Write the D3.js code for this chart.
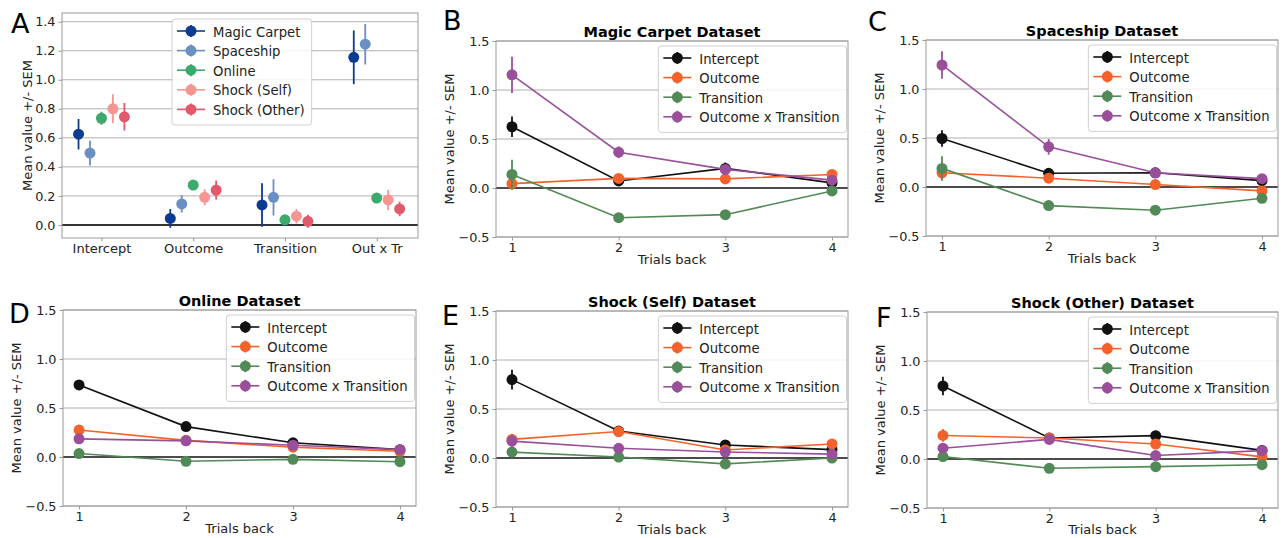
<!DOCTYPE html>
<html>
<head>
<meta charset="utf-8">
<script src="https://cdn.jsdelivr.net/npm/d3@7"></script>
<style>
  body { margin: 0; background: #fff; }
  svg { display: block; font-family: 'DejaVu Sans', sans-serif; }
</style>
</head>
<body>
<svg id="chart" width="1288" height="538"></svg>
<script>
// ---- data ----
const lags = [1, 2, 3, 4];
const regressors = ['Intercept', 'Outcome', 'Transition', 'Outcome x Transition'];
const regressorColors = ['#111111', '#f4622b', '#528a57', '#9a4f9b'];

const datasetNames = ['Magic Carpet', 'Spaceship', 'Online', 'Shock (Self)', 'Shock (Other)'];
const datasetColors = ['#0b3c91', '#6a8fc2', '#3ca96d', '#f79593', '#e05a6b'];
const summaryCategories = ['Intercept', 'Outcome', 'Transition', 'Out x Tr'];
const summaryOffsets = [-0.25, -0.125, 0, 0.125, 0.25];

// rows = regressors, columns = trials back 1..4
const magicCarpetMean = [
  [0.625, 0.072, 0.20, 0.052],
  [0.045, 0.098, 0.093, 0.138],
  [0.138, -0.303, -0.272, -0.03],
  [1.155, 0.365, 0.19, 0.08]
];
const magicCarpetSem = [
  [0.105, 0.035, 0.06, 0.03],
  [0.065, 0.03, 0.03, 0.025],
  [0.15, 0.03, 0.03, 0.03],
  [0.185, 0.06, 0.04, 0.03]
];
const spaceshipMean = [
  [0.495, 0.14, 0.145, 0.065],
  [0.145, 0.09, 0.025, -0.04],
  [0.19, -0.19, -0.237, -0.115],
  [1.245, 0.41, 0.145, 0.085]
];
const spaceshipSem = [
  [0.085, 0.03, 0.03, 0.03],
  [0.06, 0.025, 0.025, 0.025],
  [0.125, 0.025, 0.025, 0.025],
  [0.14, 0.08, 0.03, 0.025]
];
const onlineMean = [
  [0.735, 0.31, 0.145, 0.075],
  [0.275, 0.17, 0.10, 0.058],
  [0.035, -0.044, -0.024, -0.048],
  [0.185, 0.165, 0.12, 0.075]
];
const onlineSem = [
  [0.045, 0.02, 0.02, 0.015],
  [0.02, 0.02, 0.015, 0.015],
  [0.02, 0.015, 0.015, 0.015],
  [0.02, 0.02, 0.015, 0.015]
];
const shockSelfMean = [
  [0.80, 0.275, 0.133, 0.085],
  [0.19, 0.27, 0.082, 0.143],
  [0.06, 0.01, -0.06, 0.0],
  [0.172, 0.099, 0.061, 0.04]
];
const shockSelfSem = [
  [0.10, 0.05, 0.03, 0.03],
  [0.055, 0.04, 0.03, 0.03],
  [0.05, 0.02, 0.02, 0.02],
  [0.07, 0.03, 0.02, 0.02]
];
const shockOtherMean = [
  [0.745, 0.215, 0.238, 0.088],
  [0.24, 0.214, 0.153, 0.022],
  [0.025, -0.095, -0.078, -0.058],
  [0.11, 0.20, 0.035, 0.085]
];
const shockOtherSem = [
  [0.095, 0.03, 0.05, 0.03],
  [0.065, 0.03, 0.03, 0.03],
  [0.045, 0.02, 0.02, 0.02],
  [0.05, 0.03, 0.03, 0.03]
];

const allMeans = [magicCarpetMean, spaceshipMean, onlineMean, shockSelfMean, shockOtherMean];
const allSems = [magicCarpetSem, spaceshipSem, onlineSem, shockSelfSem, shockOtherSem];

const svg = d3.select('#chart');
const gridColor = '#b0b0b0';
const spineColor = '#9a9a9a';
const textColor = '#222';
const tickFont = 12.8;

function styleAxis(ax) {
  ax.select('.domain').remove();
  ax.selectAll('.tick line').attr('stroke', spineColor);
  ax.selectAll('.tick text').attr('fill', textColor).style('font-size', tickFont + 'px')
    .style('font-family', "'DejaVu Sans', sans-serif");
}

function panelLetter(letter, x, y) {
  svg.append('text').attr('x', x).attr('y', y).text(letter)
    .style('font-size', '27px').attr('fill', '#000');
}

function yLabel(x, box) {
  svg.append('text')
    .attr('transform', `translate(${x},${(box.y0 + box.y1) / 2}) rotate(-90)`)
    .attr('text-anchor', 'middle').attr('dominant-baseline', 'middle')
    .style('font-size', '13px').attr('fill', textColor)
    .text('Mean value +/- SEM');
}

function drawPoint(g, cx, cy, yTop, yBot, color) {
  g.append('line').attr('x1', cx).attr('x2', cx).attr('y1', yTop).attr('y2', yBot)
    .attr('stroke', color).attr('stroke-width', 1.8);
  g.append('circle').attr('cx', cx).attr('cy', cy).attr('r', 5.5).attr('fill', color);
}

function legend(box, names, colors, opts) {
  const g = svg.append('g');
  const rowH = opts.rowH;
  const texts = names.map((n, i) => g.append('text')
    .attr('x', 0).attr('y', 0).style('font-size', '13.2px').attr('fill', textColor)
    .attr('dominant-baseline', 'central').text(n));
  const maxW = d3.max(texts, t => t.node().getComputedTextLength());
  const w = opts.textOffset + maxW + 7;
  const h = rowH * names.length + 8;
  const x0 = opts.right != null ? opts.right - w : opts.left;
  const y0 = opts.top;
  g.insert('rect', ':first-child').attr('x', x0).attr('y', y0).attr('width', w).attr('height', h)
    .attr('rx', 3).attr('fill', 'rgba(255,255,255,0.85)').attr('stroke', '#d0d0d0');
  names.forEach((n, i) => {
    const cy = y0 + 12 + i * rowH;
    g.append('line').attr('x1', x0 + 5).attr('x2', x0 + 33).attr('y1', cy).attr('y2', cy)
      .attr('stroke', colors[i]).attr('stroke-width', 1.6);
    drawPoint(g, x0 + 19, cy, cy - 6, cy + 6, colors[i]);
    texts[i].attr('x', x0 + opts.textOffset).attr('y', cy + 1);
  });
}

// ---- panel A: trial-1 coefficients per dataset ----
function summaryPanel(box) {
  const x = d3.scaleLinear().domain([-0.43, 3.45]).range([box.x0, box.x1]);
  const y = d3.scaleLinear().domain([-0.09, 1.46]).range([box.y1, box.y0]);
  const g = svg.append('g');
  const yTicks = d3.range(0, 1.41, 0.2);

  g.selectAll('line.grid').data(yTicks).join('line')
    .attr('x1', box.x0).attr('x2', box.x1)
    .attr('y1', d => y(d)).attr('y2', d => y(d))
    .attr('stroke', d => d === 0 ? '#333' : gridColor)
    .attr('stroke-width', d => d === 0 ? 2 : 1);

  datasetNames.forEach((name, di) => {
    summaryCategories.forEach((cat, ci) => {
      const m = allMeans[di][ci][0];
      const s = allSems[di][ci][0];
      const cx = x(ci + summaryOffsets[di]);
      drawPoint(g, cx, y(m), y(m + s), y(m - s), datasetColors[di]);
    });
  });

  g.append('rect').attr('x', box.x0).attr('y', box.y0)
    .attr('width', box.x1 - box.x0).attr('height', box.y1 - box.y0)
    .attr('fill', 'none').attr('stroke', spineColor);

  const ay = svg.append('g').attr('transform', `translate(${box.x0},0)`)
    .call(d3.axisLeft(y).tickValues(yTicks).tickFormat(d3.format('.1f')).tickSize(3.5).tickPadding(3));
  styleAxis(ay);
  const ax = svg.append('g').attr('transform', `translate(0,${box.y1})`)
    .call(d3.axisBottom(x).tickValues([0, 1, 2, 3]).tickFormat(i => summaryCategories[i]).tickSize(3.5).tickPadding(2.5));
  styleAxis(ax);
  ax.selectAll('.tick text').style('font-size', '13px');

  yLabel(28, box);
  legend(box, datasetNames, datasetColors, { left: 172, top: 19, rowH: 19.6, textOffset: 41 });
}

// ---- panels B-F: coefficients by trials back ----
function lagPanel(box, title, means, sems) {
  const x = d3.scaleLinear().domain([0.85, 4.15]).range([box.x0, box.x1]);
  const y = d3.scaleLinear().domain([-0.5, 1.5]).range([box.y1, box.y0]);
  const g = svg.append('g');
  const yTicks = [-0.5, 0, 0.5, 1.0, 1.5];

  g.selectAll('line.grid').data(yTicks).join('line')
    .attr('x1', box.x0).attr('x2', box.x1)
    .attr('y1', d => y(d)).attr('y2', d => y(d))
    .attr('stroke', d => d === 0 ? '#111' : gridColor)
    .attr('stroke-width', d => d === 0 ? 1.6 : 1);

  const line = d3.line().x((d, i) => x(lags[i])).y(d => y(d));
  regressors.forEach((r, ri) => {
    const color = regressorColors[ri];
    g.append('path').attr('d', line(means[ri])).attr('fill', 'none')
      .attr('stroke', color).attr('stroke-width', 1.6);
    lags.forEach((lag, li) => {
      const m = means[ri][li], s = sems[ri][li];
      drawPoint(g, x(lag), y(m), y(m + s), y(m - s), color);
    });
  });

  g.append('rect').attr('x', box.x0).attr('y', box.y0)
    .attr('width', box.x1 - box.x0).attr('height', box.y1 - box.y0)
    .attr('fill', 'none').attr('stroke', spineColor);

  const ay = svg.append('g').attr('transform', `translate(${box.x0},0)`)
    .call(d3.axisLeft(y).tickValues(yTicks).tickFormat(d3.format('.1f')).tickSize(3.5).tickPadding(3));
  styleAxis(ay);
  const ax = svg.append('g').attr('transform', `translate(0,${box.y1})`)
    .call(d3.axisBottom(x).tickValues(lags).tickFormat(d3.format('d')).tickSize(3.5).tickPadding(2.5));
  styleAxis(ax);

  svg.append('text').attr('x', (box.x0 + box.x1) / 2).attr('y', Math.min(box.y1 + 27, 534))
    .attr('text-anchor', 'middle').style('font-size', '13px').attr('fill', textColor)
    .text('Trials back');
  svg.append('text').attr('x', (box.x0 + box.x1) / 2).attr('y', box.y0 - 4)
    .attr('text-anchor', 'middle').style('font-size', '14.5px').style('font-weight', 'bold')
    .attr('fill', '#000').text(title);

  yLabel(box.x0 - 46, box);
  legend(box, regressors, regressorColors, { right: box.x1 - 1.5, top: box.y0 + 5, rowH: 19.6, textOffset: 41 });
}

summaryPanel({ x0: 62, x1: 418, y0: 13, y1: 238 });
lagPanel({ x0: 496, x1: 848, y0: 41, y1: 237 }, 'Magic Carpet Dataset', magicCarpetMean, magicCarpetSem);
lagPanel({ x0: 926, x1: 1278, y0: 40, y1: 236 }, 'Spaceship Dataset', spaceshipMean, spaceshipSem);
lagPanel({ x0: 63, x1: 416, y0: 310, y1: 506 }, 'Online Dataset', onlineMean, onlineSem);
lagPanel({ x0: 496, x1: 848, y0: 311, y1: 507 }, 'Shock (Self) Dataset', shockSelfMean, shockSelfSem);
lagPanel({ x0: 927, x1: 1278, y0: 312, y1: 508 }, 'Shock (Other) Dataset', shockOtherMean, shockOtherSem);

panelLetter('A', 11, 33);
panelLetter('B', 443, 30);
panelLetter('C', 868, 31);
panelLetter('D', 9, 323);
panelLetter('E', 442, 325);
panelLetter('F', 876, 327);
</script>
</body>
</html>
